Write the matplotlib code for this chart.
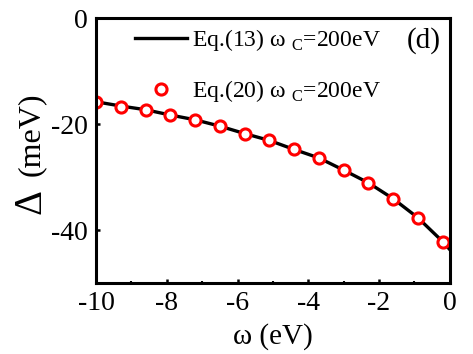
import matplotlib
matplotlib.use("Agg")
import matplotlib.pyplot as plt
from matplotlib.ticker import MultipleLocator

# values
omega_pts = [-10.0, -9.3, -8.6, -7.9, -7.2, -6.5, -5.8, -5.1, -4.4, -3.7, -3.0, -2.3, -1.6, -0.9, -0.2]
delta_eq20 = [-15.9, -16.7, -17.3, -18.3, -19.2, -20.4, -21.8, -23.1, -24.8, -26.4, -28.7, -31.1, -34.1, -37.7, -42.2]

omega_line = [-10.0, -9.3, -8.6, -7.9, -7.2, -6.5, -5.8, -5.1, -4.4, -3.7, -3.0, -2.3, -1.6, -0.9, -0.2, 0.0]
delta_eq13 = [-15.8, -16.6, -17.3, -18.3, -19.2, -20.4, -21.8, -23.1, -24.8, -26.4, -28.7, -31.1, -34.1, -37.7, -42.2, -43.7]

xticks = [-10, -8, -6, -4, -2, 0]
yticks = [0, -20, -40]

plt.rcParams['font.family'] = ['Liberation Serif', 'DejaVu Serif']
plt.rcParams['mathtext.fontset'] = 'custom'
plt.rcParams['mathtext.rm'] = 'Liberation Serif'

fig = plt.figure(figsize=(4.73, 3.54), dpi=100)
ax = fig.add_axes([0.203, 0.2006, 0.748, 0.7484])

ax.plot(omega_line, delta_eq13, color='black', lw=2.4,
        label=r'Eq.(13) ω $_\mathregular{C}$=200eV')
ax.plot(omega_pts, delta_eq20, 'o', ls='none', ms=8, mew=2.2,
        mec='red', mfc='white', label=r'Eq.(20) ω $_\mathregular{C}$=200eV')

ax.set_xlim(-10, 0)
ax.set_ylim(-50, 0)
ax.set_xticks(xticks)
ax.set_yticks(yticks)
ax.set_xticklabels([str(t) for t in xticks])
ax.set_yticklabels([str(t) for t in yticks])
ax.xaxis.set_minor_locator(MultipleLocator(1))

for s in ax.spines.values():
    s.set_linewidth(2.2)
ax.tick_params(which='major', direction='in', length=3, width=1.8, labelsize=20, pad=6)
ax.tick_params(which='minor', direction='in', length=1.5, width=1.5)

ax.set_xlabel('ω (eV)', fontsize=21, labelpad=5)
fig.text(0.066, 0.43, 'Δ', fontsize=28, rotation=90, ha='center', va='center')
fig.text(0.066, 0.622, '(meV)', fontsize=23, rotation=90, ha='center', va='center')

ax.text(0.925, 0.915, '(d)', transform=ax.transAxes, fontsize=21, ha='center', va='center')

ax.legend(loc='upper left', bbox_to_anchor=(0.11, 0.965), frameon=False, fontsize=17,
          handlelength=2.2, handletextpad=0.2, labelspacing=1.05, borderpad=0,
          borderaxespad=0)

fig.savefig('out.png', dpi=100)
